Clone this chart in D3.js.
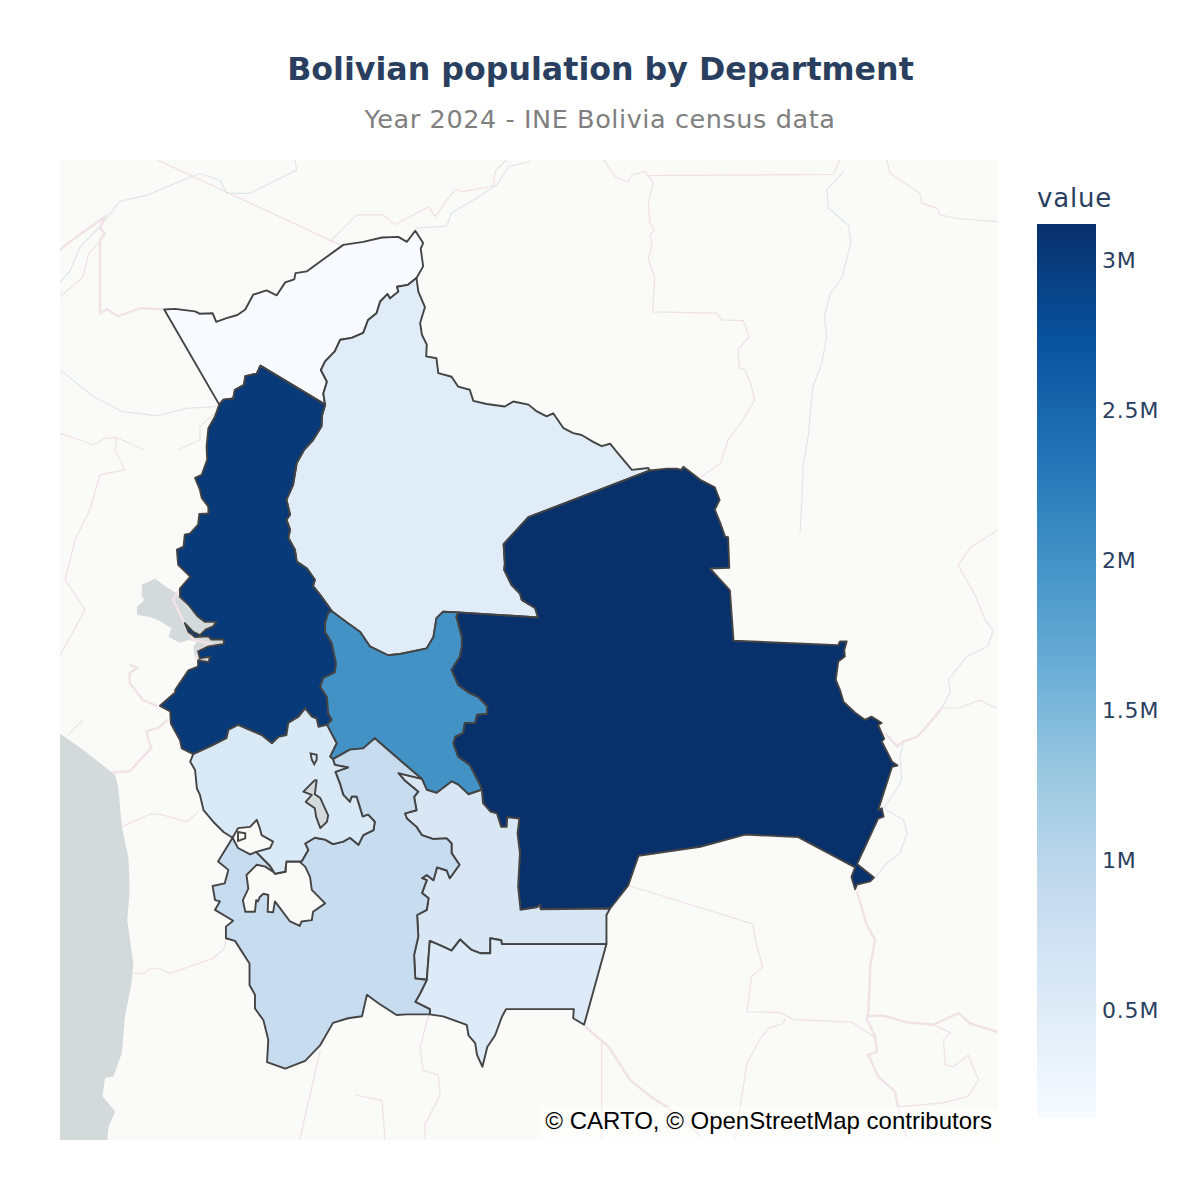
<!DOCTYPE html>
<html>
<head>
<meta charset="utf-8">
<script src="https://cdn.jsdelivr.net/npm/d3@7"></script>
<style>
  body { margin: 0; background: #fff; }
  svg { display: block; }
</style>
</head>
<body>
<div id="chart"></div>
<script>
// Census totals.
var departments = ["Pando", "Beni", "La Paz", "Cochabamba", "Santa Cruz", "Chuquisaca", "Tarija", "Potosí", "Oruro"];
var populations = [143000, 480000, 3020000, 2010000, 3120000, 600000, 530000, 860000, 570000];

// Colour bar.
var valueRange = [143000, 3123000];
var blues = ["#f7fbff", "#deebf7", "#c6dbef", "#9ecae1", "#6baed6", "#4292c6", "#2171b5", "#08519c", "#08306b"];
var tickValues = [500000, 1000000, 1500000, 2000000, 2500000, 3000000];
var tickLabels = ["0.5M", "1M", "1.5M", "2M", "2.5M", "3M"];

// Department borders as [lon, lat], one list per shared stretch.
var pandoBrazil = [[-69.58,-10.93],[-69.40,-10.92],[-69.24,-10.94],[-69.07,-10.96],[-68.99,-11.00],[-68.78,-10.99],[-68.72,-11.13],[-68.55,-11.07],[-68.37,-11.02],[-68.24,-10.93],[-68.11,-10.69],[-67.89,-10.62],[-67.72,-10.70],[-67.58,-10.49],[-67.43,-10.44],[-67.41,-10.34],[-67.22,-10.31],[-67.00,-10.15],[-66.62,-9.88],[-66.29,-9.83],[-65.98,-9.76],[-65.71,-9.75],[-65.57,-9.83],[-65.43,-9.65],[-65.30,-9.85],[-65.34,-9.94],[-65.30,-10.23],[-65.41,-10.42]];
var pandoBeni = [[-65.41,-10.42],[-65.55,-10.53],[-65.73,-10.56],[-65.71,-10.64],[-65.85,-10.75],[-65.89,-10.68],[-66.01,-10.80],[-66.07,-10.99],[-66.21,-11.10],[-66.29,-11.31],[-66.48,-11.39],[-66.67,-11.42],[-66.76,-11.61],[-66.92,-11.77],[-66.99,-11.91],[-66.89,-12.10],[-66.95,-12.29],[-66.92,-12.47]];
var pandoLaPaz = [[-66.92,-12.47],[-67.99,-11.84],[-68.05,-11.97],[-68.24,-12.01],[-68.26,-12.15],[-68.41,-12.23],[-68.44,-12.37],[-68.60,-12.39],[-68.67,-12.47]];
var beniBrazil = [[-65.41,-10.42],[-65.38,-10.64],[-65.27,-10.89],[-65.35,-11.15],[-65.32,-11.34],[-65.24,-11.50],[-65.25,-11.69],[-65.08,-11.72],[-65.05,-11.96],[-64.83,-12.02],[-64.72,-12.18],[-64.53,-12.23],[-64.47,-12.41],[-64.25,-12.46],[-63.95,-12.50],[-63.81,-12.42],[-63.56,-12.47],[-63.42,-12.58],[-63.26,-12.66],[-63.15,-12.61],[-62.98,-12.85],[-62.82,-12.93],[-62.68,-12.96],[-62.49,-13.07],[-62.35,-13.14],[-62.21,-13.10],[-62.10,-13.23],[-61.85,-13.52],[-61.58,-13.49],[-61.55,-13.53]];
var beniSanta = [[-61.55,-13.53],[-63.56,-14.28],[-63.97,-14.71],[-63.95,-15.02],[-63.96,-15.12],[-63.84,-15.36],[-63.70,-15.50],[-63.67,-15.60],[-63.45,-15.73],[-63.40,-15.88],[-64.72,-15.80]];
var beniCbba = [[-64.72,-15.80],[-64.97,-15.79],[-65.08,-15.89],[-65.13,-16.19],[-65.24,-16.37],[-65.68,-16.46],[-65.88,-16.48],[-66.18,-16.34],[-66.34,-16.11],[-66.56,-15.96],[-66.81,-15.78]];
var beniLaPaz = [[-66.81,-15.78],[-66.98,-15.55],[-67.12,-15.38],[-67.09,-15.28],[-67.22,-15.10],[-67.39,-14.99],[-67.42,-14.80],[-67.53,-14.61],[-67.50,-14.48],[-67.56,-14.32],[-67.50,-14.24],[-67.56,-14.00],[-67.45,-13.76],[-67.39,-13.41],[-67.27,-13.20],[-67.12,-13.04],[-66.98,-12.82],[-66.97,-12.64],[-66.92,-12.47]];
var laPazWest = [[-68.67,-12.47],[-68.74,-12.66],[-68.85,-12.85],[-68.88,-13.15],[-68.87,-13.36],[-68.96,-13.60],[-69.07,-13.65],[-68.99,-13.84],[-68.96,-13.97],[-68.85,-14.11],[-68.85,-14.22],[-69.00,-14.23],[-69.02,-14.40],[-69.15,-14.54],[-69.24,-14.56],[-69.26,-14.75],[-69.37,-14.80],[-69.35,-15.04],[-69.15,-15.23],[-69.32,-15.42],[-69.32,-15.55],[-69.18,-15.68],[-69.02,-15.87],[-68.91,-15.95],[-68.72,-15.95],[-68.77,-16.02],[-68.89,-16.07],[-68.99,-16.16],[-69.10,-16.11],[-69.24,-15.97],[-69.18,-16.11],[-69.07,-16.19],[-68.85,-16.18],[-68.80,-16.23],[-68.60,-16.23],[-68.59,-16.30],[-68.77,-16.33],[-68.85,-16.34],[-69.02,-16.42],[-68.99,-16.53],[-68.82,-16.50],[-68.85,-16.59],[-69.02,-16.56],[-69.02,-16.66],[-69.18,-16.72],[-69.40,-17.03],[-69.40,-17.07],[-69.65,-17.28],[-69.48,-17.37],[-69.47,-17.56],[-69.32,-17.82],[-69.29,-17.95],[-69.10,-18.04]];
var laPazOruro = [[-69.10,-18.04],[-68.82,-17.92],[-68.55,-17.79],[-68.52,-17.66],[-68.36,-17.58],[-67.97,-17.74],[-67.80,-17.87],[-67.69,-17.77],[-67.56,-17.74],[-67.53,-17.55],[-67.36,-17.45],[-67.25,-17.32],[-67.14,-17.45],[-67.06,-17.48],[-67.03,-17.61],[-66.89,-17.58]];
var laPazCbba = [[-66.89,-17.58],[-66.81,-17.50],[-66.87,-17.40],[-66.89,-17.14],[-67.00,-16.98],[-66.95,-16.84],[-66.76,-16.75],[-66.74,-16.61],[-66.81,-16.29],[-66.92,-16.11],[-66.92,-15.97],[-66.87,-15.81],[-66.81,-15.78]];
var oruroCbba = [[-66.89,-17.58],[-66.73,-17.87],[-66.84,-18.08],[-66.79,-18.12]];
var cbbaPotosi = [[-66.79,-18.12],[-66.51,-17.97],[-66.29,-17.95],[-66.10,-17.79],[-65.85,-18.00],[-65.63,-18.18],[-65.32,-18.43]];
var cbbaChuq = [[-65.32,-18.43],[-65.24,-18.60],[-65.08,-18.65],[-64.83,-18.47],[-64.72,-18.52],[-64.55,-18.67],[-64.33,-18.60]];
var cbbaSanta = [[-64.33,-18.60],[-64.36,-18.52],[-64.53,-18.21],[-64.72,-18.08],[-64.80,-17.87],[-64.77,-17.77],[-64.64,-17.71],[-64.61,-17.55],[-64.44,-17.55],[-64.41,-17.42],[-64.24,-17.41],[-64.24,-17.29],[-64.39,-17.14],[-64.53,-17.08],[-64.72,-16.95],[-64.83,-16.71],[-64.69,-16.50],[-64.66,-16.34],[-64.66,-16.19],[-64.75,-15.87],[-64.72,-15.80]];
var santaSouth = [[-64.33,-18.60],[-64.31,-18.81],[-64.19,-18.94],[-64.08,-18.97],[-64.01,-19.18],[-63.92,-19.18],[-63.91,-19.03],[-63.71,-19.05],[-63.74,-19.28],[-63.70,-19.59],[-63.73,-20.11],[-63.69,-20.47],[-63.42,-20.43],[-63.37,-20.39],[-63.36,-20.46],[-62.21,-20.45]];
var santaEast = [[-62.21,-20.45],[-61.91,-20.09],[-61.74,-19.63],[-60.72,-19.49],[-59.98,-19.30],[-59.10,-19.34],[-58.16,-19.81],[-58.22,-19.96],[-58.16,-20.15],[-58.13,-20.08],[-57.91,-20.03],[-57.85,-19.97],[-58.13,-19.76],[-57.78,-19.05],[-57.69,-19.02],[-57.72,-18.89],[-57.78,-18.92],[-57.55,-18.24],[-57.46,-18.22],[-57.55,-18.16],[-57.72,-17.84],[-57.68,-17.80],[-57.78,-17.58],[-57.72,-17.55],[-57.89,-17.45],[-58.00,-17.50],[-58.16,-17.39],[-58.35,-17.22],[-58.41,-17.03],[-58.48,-16.87],[-58.44,-16.58],[-58.33,-16.50],[-58.34,-16.40],[-58.30,-16.26],[-58.41,-16.26],[-58.44,-16.32],[-60.17,-16.25],[-60.23,-15.45],[-60.56,-15.10],[-60.24,-15.09],[-60.26,-14.60],[-60.31,-14.59],[-60.39,-14.37],[-60.48,-14.16],[-60.40,-14.00],[-60.48,-13.80],[-60.72,-13.68],[-60.89,-13.55],[-61.00,-13.47],[-61.03,-13.52],[-61.11,-13.50],[-61.27,-13.50],[-61.55,-13.53]];
var chuqEast = [[-62.21,-20.45],[-62.27,-20.55],[-62.27,-21.00]];
var tarijaSouth = [[-62.27,-21.00],[-62.64,-22.24],[-62.82,-22.14],[-62.81,-22.00],[-63.93,-22.00],[-64.00,-22.12],[-64.11,-22.40],[-64.24,-22.58],[-64.32,-22.88],[-64.41,-22.70],[-64.44,-22.52],[-64.55,-22.40],[-64.58,-22.24],[-64.97,-22.11],[-65.19,-22.08]];
var potosiTarija = [[-65.19,-22.08],[-65.19,-22.00],[-65.43,-21.89],[-65.35,-21.76],[-65.24,-21.55]];
var chuqTarija = [[-65.24,-21.55],[-65.19,-20.95],[-64.97,-21.04],[-64.83,-21.10],[-64.69,-20.93],[-64.50,-21.09],[-64.36,-21.14],[-64.19,-21.14],[-64.19,-20.91],[-64.01,-20.94],[-64.00,-21.00],[-62.27,-21.00]];
var chuqPotosi = [[-65.24,-21.55],[-65.43,-21.53],[-65.45,-21.17],[-65.38,-20.88],[-65.40,-20.55],[-65.24,-20.47],[-65.21,-20.29],[-65.32,-20.21],[-65.24,-20.01],[-65.32,-19.98],[-65.24,-19.93],[-65.13,-20.01],[-65.07,-19.81],[-64.91,-19.86],[-64.86,-19.98],[-64.70,-19.77],[-64.83,-19.59],[-64.83,-19.44],[-64.91,-19.36],[-65.13,-19.37],[-65.32,-19.31],[-65.41,-19.18],[-65.57,-19.05],[-65.60,-18.97],[-65.41,-18.92],[-65.45,-18.71],[-65.38,-18.63],[-65.60,-18.46],[-65.71,-18.34],[-65.32,-18.43]];
var potosiOuter = [[-65.19,-22.08],[-65.57,-22.08],[-65.74,-22.09],[-66.04,-21.91],[-66.23,-21.78],[-66.31,-22.11],[-66.54,-22.14],[-66.79,-22.21],[-67.00,-22.55],[-67.25,-22.79],[-67.58,-22.91],[-67.88,-22.81],[-67.86,-22.47],[-67.94,-22.17],[-68.08,-21.99],[-68.08,-21.78],[-68.17,-21.63],[-68.17,-21.30],[-68.41,-20.95],[-68.56,-20.91],[-68.56,-20.73],[-68.44,-20.64],[-68.74,-20.47],[-68.66,-20.34],[-68.74,-20.32],[-68.78,-20.10],[-68.58,-20.06],[-68.52,-19.85],[-68.69,-19.72],[-68.45,-19.35],[-68.36,-19.51],[-68.16,-19.61],[-68.06,-19.57]];
var oruroPotosi = [[-68.06,-19.57],[-67.83,-19.79],[-67.75,-19.91],[-67.58,-19.88],[-67.56,-19.72],[-67.31,-19.72],[-67.20,-19.54],[-67.25,-19.44],[-67.09,-19.35],[-66.92,-19.38],[-66.79,-19.45],[-66.62,-19.41],[-66.51,-19.35],[-66.37,-19.46],[-66.29,-19.31],[-66.12,-19.23],[-66.10,-19.10],[-66.21,-18.99],[-66.30,-19.02],[-66.40,-18.71],[-66.48,-18.71],[-66.51,-18.79],[-66.62,-18.68],[-66.67,-18.52],[-66.75,-18.32],[-66.54,-18.25],[-66.76,-18.21],[-66.79,-18.12]];
var oruroWest = [[-69.10,-18.04],[-69.15,-18.16],[-69.07,-18.29],[-69.04,-18.58],[-68.99,-18.68],[-68.93,-18.92],[-68.77,-19.10],[-68.60,-19.26],[-68.45,-19.35],[-68.36,-19.20],[-68.16,-19.18],[-68.05,-19.07],[-68.00,-19.20],[-67.97,-19.31],[-67.78,-19.41],[-67.83,-19.51],[-68.06,-19.57]];

// Uyuni salt flat, cut out of Potosí.
var salarUyuni = [[-67.58,-19.72],[-67.36,-19.71],[-67.25,-19.80],[-67.17,-19.96],[-67.14,-20.16],[-66.92,-20.37],[-67.12,-20.50],[-67.14,-20.63],[-67.31,-20.65],[-67.34,-20.72],[-67.50,-20.65],[-67.75,-20.34],[-67.78,-20.51],[-67.87,-20.50],[-67.86,-20.24],[-67.94,-20.22],[-68.00,-20.27],[-68.03,-20.34],[-68.06,-20.32],[-68.08,-20.50],[-68.24,-20.50],[-68.28,-20.32],[-68.19,-20.14],[-68.22,-19.93],[-68.05,-19.77],[-67.91,-19.80],[-67.75,-19.90],[-67.57,-19.88]];
var lakePoopo = [[-67.28,-18.63],[-67.09,-18.45],[-67.06,-18.45],[-67.09,-18.67],[-67.00,-18.73],[-66.87,-19.00],[-66.89,-19.10],[-67.00,-19.20],[-67.07,-19.02],[-67.09,-18.89],[-67.24,-18.79],[-67.14,-18.68]];
var lakeUruUru = [[-67.16,-18.03],[-67.06,-18.05],[-67.06,-18.13],[-67.10,-18.20],[-67.14,-18.13]];
var coipasaIsland = [[-68.36,-19.26],[-68.24,-19.28],[-68.24,-19.36],[-68.36,-19.40]];

// Base map.
var ocean = [[-71.31,-17.71],[-70.92,-17.97],[-70.39,-18.37],[-70.34,-18.55],[-70.28,-19.18],[-70.17,-19.67],[-70.15,-20.16],[-70.19,-20.63],[-70.09,-21.30],[-70.12,-21.60],[-70.23,-22.12],[-70.28,-22.67],[-70.42,-23.03],[-70.56,-23.05],[-70.60,-23.33],[-70.39,-23.56],[-70.50,-23.79],[-70.52,-23.99],[-71.31,-23.99]];
var lakeTiticaca = [[-69.95,-15.36],[-69.73,-15.26],[-69.60,-15.36],[-69.37,-15.50],[-69.15,-15.76],[-68.91,-15.89],[-68.72,-15.92],[-68.69,-16.05],[-68.82,-16.24],[-68.59,-16.24],[-68.59,-16.32],[-68.86,-16.36],[-69.02,-16.42],[-68.99,-16.52],[-68.82,-16.51],[-68.86,-16.60],[-69.02,-16.57],[-69.07,-16.51],[-69.10,-16.34],[-69.04,-16.26],[-69.18,-16.24],[-69.32,-16.28],[-69.51,-16.19],[-69.46,-16.05],[-69.68,-15.92],[-69.84,-15.87],[-70.03,-15.84],[-70.03,-15.71],[-69.90,-15.60],[-69.95,-15.55]];

var countryLines = [
  [[-71.30,-9.96],[-71.14,-9.83],[-70.56,-9.42],[-70.64,-9.61],[-70.56,-9.69],[-70.64,-9.80],[-70.64,-10.99],[-70.53,-10.93],[-70.34,-11.04],[-69.98,-10.91],[-69.58,-10.93]],
  [[-69.32,-15.42],[-69.43,-15.60],[-69.21,-16.05],[-69.10,-16.24],[-68.82,-16.29],[-69.02,-16.42],[-69.04,-16.55]],
  [[-70.15,-16.63],[-70.03,-16.68],[-70.15,-16.76],[-70.15,-16.92],[-69.93,-17.19],[-69.70,-17.28]],
  [[-69.52,-17.50],[-69.68,-17.63],[-69.87,-17.68],[-69.84,-17.82],[-69.79,-17.94],[-70.15,-18.31],[-70.43,-18.33]],
  [[-58.13,-20.19],[-57.97,-20.70],[-57.83,-20.93],[-57.91,-21.35],[-57.94,-22.06],[-57.97,-22.14],[-57.83,-22.42],[-57.80,-22.65],[-57.94,-22.70],[-57.78,-23.03],[-57.50,-23.26],[-57.45,-23.49],[-57.31,-23.95]],
  [[-57.94,-22.11],[-57.69,-22.10],[-57.31,-22.20],[-56.87,-22.24],[-56.45,-22.06],[-56.26,-22.22],[-55.80,-22.35]],
  [[-62.62,-22.27],[-62.24,-22.57],[-61.88,-23.08],[-61.50,-23.36],[-61.27,-23.49],[-60.72,-23.92]],
  [[-56.73,-17.32],[-56.98,-17.61],[-57.14,-17.77],[-57.36,-17.84],[-57.46,-17.92],[-57.67,-17.71]]
];
var stateLines = [
  [[-69.70,-8.49],[-66.67,-9.88]],
  [[-66.84,-9.83],[-66.40,-9.39],[-65.96,-9.39],[-65.77,-9.55],[-65.46,-9.39],[-65.21,-9.26],[-65.10,-9.42],[-64.91,-9.15],[-64.77,-8.97],[-64.64,-9.01],[-64.14,-8.92],[-64.11,-8.68],[-63.92,-8.49]],
  [[-71.30,-10.72],[-70.92,-10.40],[-70.83,-10.02],[-70.64,-9.83]],
  [[-71.30,-12.93],[-70.75,-13.12],[-70.56,-13.01],[-70.37,-13.00],[-69.90,-13.20]],
  [[-70.37,-13.00],[-70.39,-13.20],[-70.23,-13.52],[-70.64,-13.60],[-70.81,-14.16],[-71.05,-14.64],[-71.22,-15.28],[-70.89,-15.76],[-71.30,-16.48]],
  [[-69.35,-13.20],[-68.99,-13.04],[-68.99,-12.82],[-68.74,-12.61]],
  [[-70.92,-17.50],[-71.17,-17.74]],
  [[-70.28,-19.18],[-69.81,-18.98],[-69.65,-18.98],[-69.21,-19.10],[-69.02,-18.95]],
  [[-70.09,-21.45],[-69.90,-21.45],[-69.82,-21.38],[-69.65,-21.38],[-69.48,-21.45],[-68.77,-21.22],[-68.58,-21.06],[-68.56,-20.93]],
  [[-62.32,-8.49],[-62.13,-8.77],[-61.91,-8.85],[-61.85,-8.74],[-61.63,-8.68],[-61.50,-8.87],[-61.58,-9.20],[-61.55,-9.53],[-61.48,-9.64],[-61.55,-9.72],[-61.52,-9.91],[-61.58,-10.10],[-61.47,-10.42],[-61.51,-10.97],[-60.45,-10.99],[-60.36,-11.10],[-60.01,-11.11],[-59.91,-11.37],[-60.10,-11.58],[-60.07,-11.88],[-59.98,-11.91],[-59.89,-12.12],[-59.82,-12.39],[-60.01,-12.71],[-60.26,-13.04],[-60.38,-13.41],[-60.70,-13.63]],
  [[-61.60,-8.75],[-58.52,-8.73],[-58.41,-8.49]],
  [[-57.64,-8.49],[-57.58,-8.71],[-57.09,-9.04],[-57.06,-9.20],[-56.81,-9.28],[-56.76,-9.39],[-56.48,-9.45],[-55.80,-9.50]],
  [[-56.73,-17.32],[-56.43,-17.31],[-56.10,-17.19],[-55.82,-17.32]],
  [[-55.80,-14.48],[-56.26,-14.77],[-56.46,-15.05],[-56.18,-15.52],[-56.01,-15.92]],
  [[-61.88,-20.10],[-59.85,-20.69],[-59.81,-20.93],[-59.69,-21.35],[-59.87,-21.50],[-59.95,-22.04],[-59.40,-22.05],[-59.18,-22.16],[-58.22,-22.20],[-57.85,-22.42]],
  [[-59.32,-22.14],[-59.35,-22.22],[-59.59,-22.29],[-59.73,-22.45],[-59.95,-22.83],[-60.06,-23.49],[-60.15,-23.99]],
  [[-56.87,-22.24],[-56.58,-22.36],[-56.70,-22.47],[-56.67,-22.85],[-56.54,-22.88],[-56.29,-22.70],[-56.12,-23.08],[-56.29,-23.33],[-56.70,-23.43],[-57.45,-23.49]],
  [[-62.35,-22.49],[-62.35,-23.99]],
  [[-65.21,-22.09],[-65.35,-22.58],[-65.30,-22.93],[-65.05,-23.01],[-65.02,-23.31],[-65.27,-23.76],[-65.27,-23.99]],
  [[-67.00,-22.63],[-67.17,-23.31],[-67.34,-23.99]],
  [[-66.43,-23.31],[-65.98,-23.39],[-65.93,-23.99]]
];
var riverLines = [
  [[-71.30,-10.48],[-71.14,-10.31],[-70.97,-9.91],[-70.64,-9.58],[-70.31,-9.17],[-69.87,-9.07],[-69.26,-8.82],[-68.99,-8.72],[-68.66,-8.82],[-68.55,-9.04],[-68.16,-9.04],[-67.39,-8.66],[-67.42,-8.49]],
  [[-65.43,-9.61],[-64.91,-9.57],[-64.83,-9.36],[-64.47,-9.15],[-64.08,-8.90],[-63.89,-8.60],[-63.53,-8.52]],
  [[-71.30,-11.91],[-70.75,-12.34],[-70.28,-12.58],[-69.70,-12.65],[-69.21,-12.53],[-68.69,-12.50]],
  [[-58.35,-8.68],[-58.63,-8.98],[-58.60,-9.28],[-58.27,-9.56],[-58.23,-9.85],[-58.38,-10.42],[-58.57,-10.67],[-58.67,-11.05],[-58.63,-11.37],[-58.71,-11.80],[-58.86,-12.18],[-58.93,-12.93],[-59.02,-13.47],[-59.04,-14.00],[-59.07,-14.52]],
  [[-56.01,-15.92],[-55.88,-16.08],[-55.96,-16.34],[-56.31,-16.50],[-56.62,-16.87],[-56.59,-17.06],[-56.73,-17.32],[-56.98,-17.61],[-57.14,-17.77],[-57.36,-17.84],[-57.42,-18.08],[-57.39,-18.45],[-57.55,-18.71],[-57.69,-18.89],[-57.36,-19.07],[-57.30,-19.28],[-57.42,-19.59],[-57.64,-19.75],[-57.83,-19.97]]
];

// Rings of each department, stitched from the shared borders.
function back(arc) { return arc.slice().reverse(); }
var departmentRings = [
  [pandoBrazil.concat(pandoBeni, pandoLaPaz)],
  [beniBrazil.concat(beniSanta, beniCbba, beniLaPaz, back(pandoBeni))],
  [laPazWest.concat(laPazOruro, laPazCbba, beniLaPaz, pandoLaPaz)],
  [beniCbba.concat(back(laPazCbba), oruroCbba, cbbaPotosi, cbbaChuq, cbbaSanta)],
  [santaSouth.concat(santaEast, beniSanta, back(cbbaSanta))],
  [cbbaChuq.concat(santaSouth, chuqEast, back(chuqTarija), chuqPotosi)],
  [tarijaSouth.concat(potosiTarija, chuqTarija)],
  [potosiOuter.concat(oruroPotosi, cbbaPotosi, back(chuqPotosi), back(potosiTarija)), salarUyuni],
  [oruroWest.concat(oruroPotosi, back(oruroCbba), back(laPazOruro)), lakePoopo]
];

var width = 1200, height = 1200;
var plot = {left: 60, top: 160, right: 998, bottom: 1140};
var bar = {left: 1037, right: 1096, top: 224, bottom: 1118};
var ink = "#2a3f5f", landColor = "#fafaf8", waterColor = "#d4dadc", outline = "#444";
var titleFont = "DejaVu Sans, Verdana, sans-serif";

var svg = d3.select("#chart").append("svg").attr("width", width).attr("height", height);

var projection = d3.geoMercator().center([-64, -16]).scale(3466.4).translate([501.8, 625]);
var path = d3.line()
    .x(function(d) { return projection(d)[0]; })
    .y(function(d) { return projection(d)[1]; });
function closedPath(ring) { return path(ring) + "Z"; }

var color = d3.scaleLinear()
    .domain(blues.map(function(c, i) { return valueRange[0] + (valueRange[1] - valueRange[0]) * i / (blues.length - 1); }))
    .range(blues);

svg.append("clipPath").attr("id", "plot-clip").append("rect")
    .attr("x", plot.left).attr("y", plot.top)
    .attr("width", plot.right - plot.left).attr("height", plot.bottom - plot.top);

var map = svg.append("g").attr("clip-path", "url(#plot-clip)");

// Base map layers.
map.append("rect")
    .attr("x", plot.left).attr("y", plot.top)
    .attr("width", plot.right - plot.left).attr("height", plot.bottom - plot.top)
    .attr("fill", landColor);
map.selectAll(".water").data([ocean, lakeTiticaca, lakePoopo]).enter().append("path")
    .attr("class", "water")
    .attr("d", closedPath)
    .attr("fill", waterColor);
map.selectAll(".river").data(riverLines).enter().append("path")
    .attr("class", "river")
    .attr("d", path)
    .attr("fill", "none")
    .attr("stroke", "#e0e7eb")
    .attr("stroke-width", 1.2);
map.selectAll(".state").data(stateLines).enter().append("path")
    .attr("class", "state")
    .attr("d", path)
    .attr("fill", "none")
    .attr("stroke", "#f0e1e3")
    .attr("stroke-width", 1.2);
map.selectAll(".country").data(countryLines).enter().append("path")
    .attr("class", "country")
    .attr("d", path)
    .attr("fill", "none")
    .attr("stroke", "#f1e2e5")
    .attr("stroke-width", 2.4);

// Departments.
map.selectAll(".department").data(departments).enter().append("path")
    .attr("class", "department")
    .attr("d", function(d, i) { return departmentRings[i].map(closedPath).join(""); })
    .attr("fill", function(d, i) { return color(populations[i]); })
    .attr("fill-rule", "evenodd")
    .attr("stroke", outline)
    .attr("stroke-width", 1.9)
    .attr("stroke-linejoin", "round");
map.selectAll(".outline-only").data([lakeUruUru, coipasaIsland]).enter().append("path")
    .attr("class", "outline-only")
    .attr("d", closedPath)
    .attr("fill", "none")
    .attr("stroke", outline)
    .attr("stroke-width", 1.9);

// Attribution box.
map.append("rect")
    .attr("x", 540).attr("y", 1107)
    .attr("width", plot.right - 540).attr("height", plot.bottom - 1107)
    .attr("fill", "rgba(255,255,255,0.5)");
svg.append("text")
    .attr("x", 992).attr("y", 1129)
    .attr("text-anchor", "end")
    .attr("font-family", "Liberation Sans, Arial, sans-serif")
    .attr("font-size", 24)
    .attr("fill", "#000")
    .text("© CARTO, © OpenStreetMap contributors");

// Titles.
svg.append("text")
    .attr("x", 600.5).attr("y", 79.5)
    .attr("text-anchor", "middle")
    .attr("font-family", titleFont)
    .attr("font-weight", "bold")
    .attr("font-size", 31.7)
    .attr("fill", ink)
    .text("Bolivian population by Department");
svg.append("text")
    .attr("x", 600).attr("y", 128)
    .attr("text-anchor", "middle")
    .attr("font-family", titleFont)
    .attr("font-size", 25.5)
    .attr("letter-spacing", 0.58)
    .attr("fill", "#7f7f7f")
    .text("Year 2024 - INE Bolivia census data");

// Colour bar.
var gradient = svg.append("defs").append("linearGradient")
    .attr("id", "bar-gradient")
    .attr("x1", 0).attr("x2", 0).attr("y1", 1).attr("y2", 0);
gradient.selectAll("stop").data(blues).enter().append("stop")
    .attr("offset", function(d, i) { return i / (blues.length - 1); })
    .attr("stop-color", function(d) { return d; });
svg.append("rect")
    .attr("x", bar.left).attr("y", bar.top)
    .attr("width", bar.right - bar.left).attr("height", bar.bottom - bar.top)
    .attr("fill", "url(#bar-gradient)");

var barScale = d3.scaleLinear().domain(valueRange).range([bar.bottom, bar.top]);
var barAxis = d3.axisRight(barScale)
    .tickValues(tickValues)
    .tickSize(0)
    .tickPadding(6)
    .tickFormat(function(d, i) { return tickLabels[i]; });
var barTicks = svg.append("g")
    .attr("transform", "translate(" + bar.right + ",0)")
    .call(barAxis);
barTicks.select(".domain").remove();
barTicks.selectAll("text")
    .attr("font-family", titleFont)
    .attr("font-size", 22)
    .attr("letter-spacing", 0.8)
    .attr("fill", ink);

svg.append("text")
    .attr("x", bar.left).attr("y", 207)
    .attr("font-family", titleFont)
    .attr("font-size", 26)
    .attr("letter-spacing", 0.8)
    .attr("fill", ink)
    .text("value");
</script>
</body>
</html>
